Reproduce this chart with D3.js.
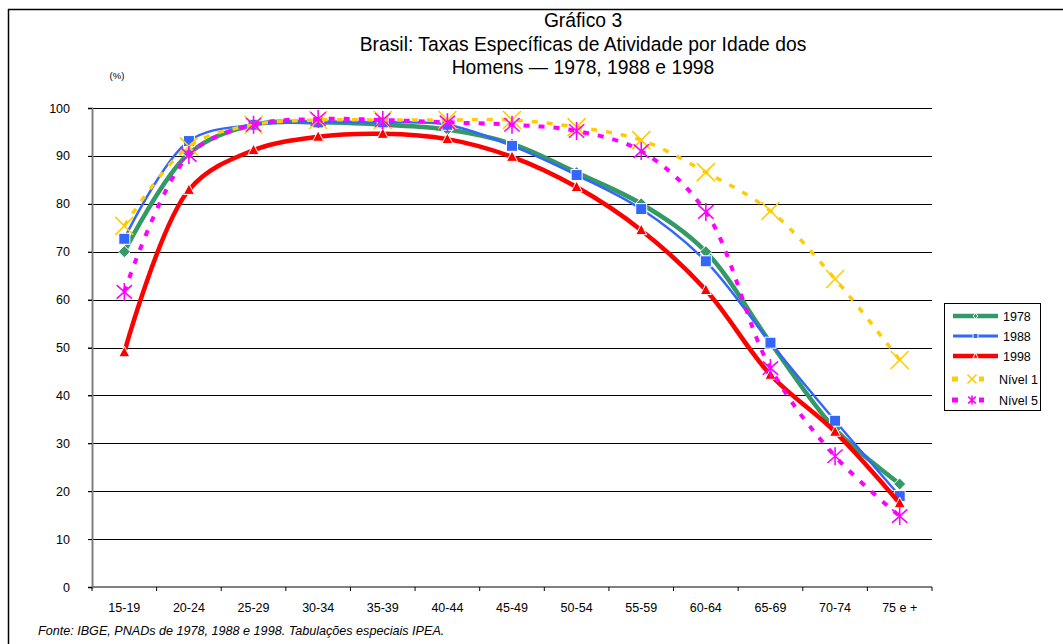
<!DOCTYPE html>
<html>
<head>
<meta charset="utf-8">
<script src="https://cdn.jsdelivr.net/npm/d3@7"></script>
<style>
  body { margin: 0; background: #fff; }
  text { font-family: "Liberation Sans", Arial, sans-serif; }
</style>
</head>
<body>
<div id="chart"></div>
<script>
// faixas etarias
let ageGroups = ["15-19", "20-24", "25-29", "30-34", "35-39", "40-44", "45-49",
                 "50-54", "55-59", "60-64", "65-69", "70-74", "75 e +"];
let yTicks = [0, 10, 20, 30, 40, 50, 60, 70, 80, 90, 100];

let rate1978  = [70.0, 90.5, 96.5, 97.0, 96.5, 95.5, 92.5, 86.5, 80.0, 70.0, 51.0, 33.0, 21.5];
let rate1988  = [72.7, 93.1, 96.5, 97.0, 97.0, 96.5, 92.1, 86.0, 78.9, 68.0, 51.0, 34.7, 19.0];
let rate1998  = [49.0, 82.9, 91.2, 94.0, 94.6, 93.5, 89.8, 83.5, 74.5, 62.0, 44.3, 32.4, 17.5];
let rateNivel1 = [75.4, 92.0, 96.5, 97.5, 97.5, 97.5, 97.5, 96.0, 93.3, 86.6, 78.5, 64.3, 47.4];
let rateNivel5 = [61.6, 90.2, 96.5, 97.7, 97.5, 97.0, 96.5, 95.2, 91.0, 78.3, 45.7, 27.3, 14.8];

let seriesNames = ["1978", "1988", "1998", "Nível 1", "Nível 5"];

const width = 1063, height = 644;
const plotL = 92, plotR = 932, plotT = 108, plotB = 587;

let svg = d3.select("#chart").append("svg")
    .attr("width", width)
    .attr("height", height);

// moldura
svg.append("line").attr("x1", 8).attr("x2", width).attr("y1", 9.5).attr("y2", 9.5)
    .attr("stroke", "#000").attr("stroke-width", 1.5);
svg.append("line").attr("x1", 8.5).attr("x2", 8.5).attr("y1", 9).attr("y2", height)
    .attr("stroke", "#000").attr("stroke-width", 1.5);

// titulo
let titleLines = ["Gráfico 3", "Brasil: Taxas Específicas de Atividade por Idade dos", "Homens — 1978, 1988 e 1998"];
svg.append("g").selectAll("text")
    .data(titleLines)
    .enter().append("text")
    .attr("x", 583)
    .attr("y", (d, i) => 27 + i * 23.5)
    .attr("text-anchor", "middle")
    .attr("font-size", "19.3px")
    .text(d => d);

svg.append("text").attr("x", 117).attr("y", 79).attr("text-anchor", "middle")
    .attr("font-size", "9.5px").text("(%)");

let x = d3.scaleBand().domain(ageGroups).range([plotL, plotR]);
let y = d3.scaleLinear().domain([0, 100]).range([plotB, plotT]);

// grade horizontal
svg.append("g").selectAll("line")
    .data(yTicks.filter(d => d > 0))
    .enter().append("line")
    .attr("x1", plotL - 4).attr("x2", plotR)
    .attr("y1", d => Math.round(y(d)) + 0.5).attr("y2", d => Math.round(y(d)) + 0.5)
    .attr("stroke", "#000").attr("stroke-width", 1);

// eixo y
let yAxis = svg.append("g")
    .attr("transform", "translate(" + plotL + ",0)")
    .call(d3.axisLeft(y).tickValues(yTicks).tickSize(4).tickPadding(18));
yAxis.select(".domain").attr("stroke", "#808080").attr("stroke-width", 2);
yAxis.selectAll(".tick line").attr("stroke", "#000");
yAxis.selectAll("text").attr("font-size", "12.5px").attr("font-family", "Liberation Sans, Arial, sans-serif");

// eixo x
let xAxis = svg.append("g")
    .attr("transform", "translate(0," + plotB + ")");
xAxis.append("line").attr("x1", plotL).attr("x2", plotR).attr("y1", 0).attr("y2", 0)
    .attr("stroke", "#808080").attr("stroke-width", 2);
xAxis.selectAll(".xtick")
    .data(ageGroups.concat(["end"]))
    .enter().append("line")
    .attr("x1", (d, i) => plotL + i * x.bandwidth())
    .attr("x2", (d, i) => plotL + i * x.bandwidth())
    .attr("y1", 0).attr("y2", 4)
    .attr("stroke", "#000");
xAxis.selectAll(".xlabel")
    .data(ageGroups)
    .enter().append("text")
    .attr("x", d => x(d) + x.bandwidth() / 2)
    .attr("y", 25)
    .attr("text-anchor", "middle")
    .attr("font-size", "12.5px")
    .text(d => d);

let styles = [
    {color: "#339966", width: 4.5, dash: null, marker: "diamond", msize: 6},
    {color: "#3366ff", width: 2.5, dash: null, marker: "square", msize: 11},
    {color: "#ff0000", width: 4.5, dash: null, marker: "triangle", msize: 10},
    {color: "#ffcc00", width: 3.5, dash: "6,9", marker: "x", msize: 9},
    {color: "#ff00ff", width: 4, dash: "6,9", marker: "star", msize: 9}
];
let allData = [rate1978, rate1988, rate1998, rateNivel1, rateNivel5];

let line = d3.line()
    .x((d, i) => x(ageGroups[i]) + x.bandwidth() / 2)
    .y(d => y(d))
    .curve(d3.curveCatmullRom.alpha(0.5));

let drawMarker = function (g, type, s, color) {
    if (type === "diamond") {
        g.append("path").attr("d", "M0," + (-s) + "L" + s + ",0L0," + s + "L" + (-s) + ",0Z")
            .attr("fill", color).attr("stroke", "#fff").attr("stroke-width", 1);
    } else if (type === "square") {
        g.append("rect").attr("x", -s / 2).attr("y", -s / 2).attr("width", s).attr("height", s)
            .attr("fill", color).attr("stroke", "#fff").attr("stroke-width", 1);
    } else if (type === "triangle") {
        g.append("path").attr("d", "M0," + (-s * 0.6) + "L" + (s * 0.55) + "," + (s * 0.45) + "L" + (-s * 0.55) + "," + (s * 0.45) + "Z")
            .attr("fill", color).attr("stroke", "#fff").attr("stroke-width", 1);
    } else if (type === "x") {
        g.append("path").attr("d", "M" + (-s) + "," + (-s) + "L" + s + "," + s + "M" + s + "," + (-s) + "L" + (-s) + "," + s)
            .attr("stroke", color).attr("stroke-width", 1.6).attr("fill", "none");
    } else if (type === "star") {
        g.append("path").attr("d", "M" + (-s * 0.85) + "," + (-s * 0.75) + "L" + (s * 0.85) + "," + (s * 0.75) +
            "M" + (s * 0.85) + "," + (-s * 0.75) + "L" + (-s * 0.85) + "," + (s * 0.75) +
            "M0," + (-s) + "L0," + s)
            .attr("stroke", color).attr("stroke-width", 1.6).attr("fill", "none");
    }
};

// linhas e marcadores
allData.forEach(function (data, k) {
    let st = styles[k];
    let g = svg.append("g").attr("class", "series");
    g.append("path")
        .datum(data)
        .attr("d", line)
        .attr("fill", "none")
        .attr("stroke", st.color)
        .attr("stroke-width", st.width)
        .attr("stroke-dasharray", st.dash);
    g.selectAll(".pt")
        .data(data)
        .enter().append("g")
        .attr("transform", (d, i) => "translate(" + (x(ageGroups[i]) + x.bandwidth() / 2) + "," + y(d) + ")")
        .each(function () { drawMarker(d3.select(this), st.marker, st.msize, st.color); });
});

// legenda
let legend = svg.append("g").attr("transform", "translate(944,303)");
legend.append("rect").attr("x", 0.5).attr("y", 0.5).attr("width", 96).attr("height", 107)
    .attr("fill", "#fff").attr("stroke", "#000").attr("stroke-width", 1);
let legendY = [13, 33, 53, 76, 97];
seriesNames.forEach(function (name, k) {
    let st = styles[k];
    let row = legend.append("g").attr("transform", "translate(0," + legendY[k] + ")");
    if (k < 3) {
        row.append("line").attr("x1", 9).attr("x2", 54).attr("y1", 0).attr("y2", 0)
            .attr("stroke", st.color).attr("stroke-width", k === 1 ? 3 : 4.5);
        let m = row.append("g").attr("transform", "translate(31.5,0)");
        drawMarker(m, st.marker, k === 0 ? 2.5 : 5, st.color);
    } else {
        row.append("rect").attr("x", 8).attr("y", -2.5).attr("width", 6).attr("height", 5).attr("fill", st.color);
        row.append("rect").attr("x", 35).attr("y", -2.5).attr("width", 5).attr("height", 5).attr("fill", st.color);
        let m = row.append("g").attr("transform", "translate(28,0)");
        drawMarker(m, st.marker, 4.5, st.color);
    }
    row.append("text").attr("x", k < 3 ? 59 : 55).attr("y", 4.5).attr("font-size", "12.5px").text(name);
});

// fonte
svg.append("text").attr("x", 38).attr("y", 635)
    .attr("font-size", "12.6px").attr("font-style", "italic")
    .text("Fonte: IBGE, PNADs de 1978, 1988 e 1998. Tabulações especiais IPEA.");
</script>
</body>
</html>
